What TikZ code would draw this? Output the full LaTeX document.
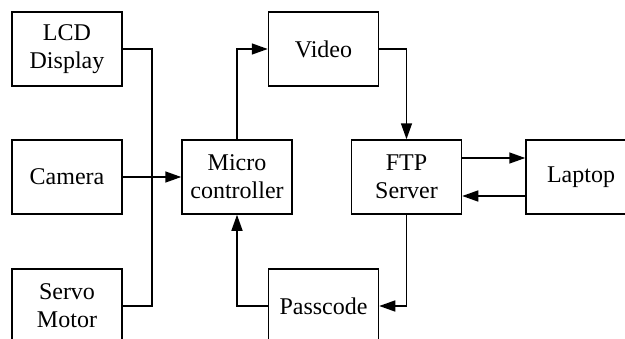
\documentclass[tikz,border=0pt]{standalone}
\usepackage{fontspec}
\setmainfont{Liberation Serif}
\usetikzlibrary{arrows.meta}
\begin{document}
\begin{tikzpicture}[x=1pt,y=-1pt,
  block/.style={draw,line width=1.5pt,minimum width=110pt,minimum height=74pt,
    align=center,inner sep=0pt,font=\fontsize{24}{28}\selectfont},
  wire/.style={line width=1.5pt},
  flow/.style={line width=1.5pt,-{Triangle[length=16pt,width=11pt]}}]
\useasboundingbox (0,0) rectangle (625,338);
\clip (0,0) rectangle (625,338);
% blocks
\node[block] (lcd)   at (67,49)    {LCD\\Display};
\node[block] (cam)   at (67,177)   {Camera};
\node[block] (servo) at (67,306)   {Servo\\Motor};
\node[block] (mcu)   at (237,177)  {Micro\\controller};
\node[block] (video) at (323.5,49) {Video};
\node[block] (ftp)   at (406.5,177){FTP\\Server};
\node[block] (lap)   at (581,177)  {Laptop};
\node[block] (pass)  at (323.5,306){Passcode};
% bus joining the peripherals
\coordinate (join) at (152,177);
\draw[wire] (lcd.east) -| (join);
\draw[wire] (servo.east) -| (join);
\draw[flow] (cam.east) -- (mcu.west);
% data paths
\draw[flow] (mcu.north) |- (video.west);
\draw[flow] (video.east) -| (ftp.north);
\draw[flow] ([yshift=19pt]ftp.east) -- ([yshift=19pt]lap.west);
\draw[flow] ([yshift=-19pt]lap.west) -- ([yshift=-19pt]ftp.east);
\draw[flow] (ftp.south) |- (pass.east);
\draw[flow] (pass.west) -| (mcu.south);
\end{tikzpicture}
\end{document}
